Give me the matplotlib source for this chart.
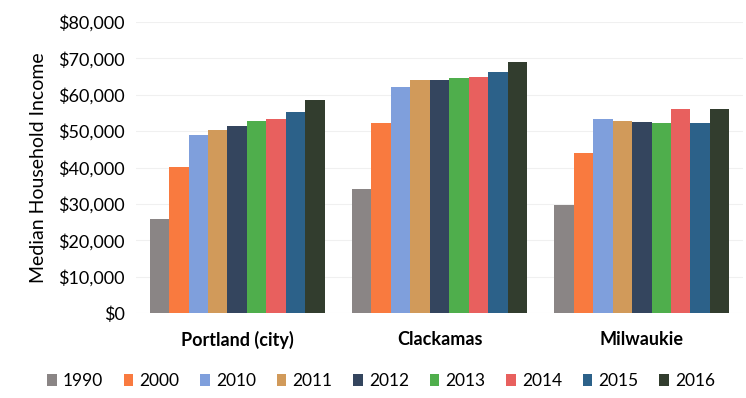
import numpy as np
import matplotlib.pyplot as plt
from matplotlib.ticker import FuncFormatter

plt.rcParams['font.family'] = ['Lato', 'DejaVu Sans']

# Median household income by place and year
places = ['Portland (city)', 'Clackamas', 'Milwaukie']
years = ['1990', '2000', '2010', '2011', '2012', '2013', '2014', '2015', '2016']
inc_1990 = [25800, 34000, 29700]
inc_2000 = [40100, 52200, 44000]
inc_2010 = [48900, 62100, 53300]
inc_2011 = [50300, 64000, 52700]
inc_2012 = [51400, 64000, 52500]
inc_2013 = [52700, 64600, 52200]
inc_2014 = [53300, 64800, 56000]
inc_2015 = [55200, 66200, 52200]
inc_2016 = [58500, 69000, 56000]
colores = ['#8a8585', '#f97a3f', '#7f9fdc', '#d19a5a', '#34455e',
           '#4fae4c', '#e8605e', '#2c6189', '#323d2e']

series = [inc_1990, inc_2000, inc_2010, inc_2011, inc_2012,
          inc_2013, inc_2014, inc_2015, inc_2016]

fig = plt.figure(figsize=(7.46, 3.98), dpi=100)
ax = fig.add_axes([136/746, 85/398, 607/746, 291/398])

x = np.arange(len(places))
ancho = 0.865 / len(years)
for i, (vals, c, yr) in enumerate(zip(series, colores, years)):
    pos = x - 0.865/2 + ancho*(i + 0.5)
    ax.bar(pos, vals, width=ancho, color=c, label=yr, linewidth=0)

ax.set_xlim(-0.5, 2.5)
ax.set_ylim(0, 80000)
ax.set_yticks(np.arange(0, 80001, 10000))
ax.yaxis.set_major_formatter(FuncFormatter(lambda v, p: '${:,.0f}'.format(v)))
ax.set_xticks(x)
ax.set_xticklabels(places, fontweight='bold', fontsize=12.5)
ax.tick_params(axis='both', length=0, labelsize=13, colors='black')
ax.tick_params(axis='x', pad=13)
ax.tick_params(axis='y', pad=8)
ax.grid(axis='y', color='#f0f0f0', linewidth=0.8)
ax.set_axisbelow(True)
for s in ax.spines.values():
    s.set_visible(False)
ax.set_ylabel('Median Household Income', fontsize=14, labelpad=8)

fig.legend(loc='center', bbox_to_anchor=(381/746, 17/398), ncol=9,
           frameon=False, fontsize=12.5, handlelength=0.55, handleheight=0.65,
           handletextpad=0.35, columnspacing=1.2)

fig.savefig('out.png', dpi=100)
